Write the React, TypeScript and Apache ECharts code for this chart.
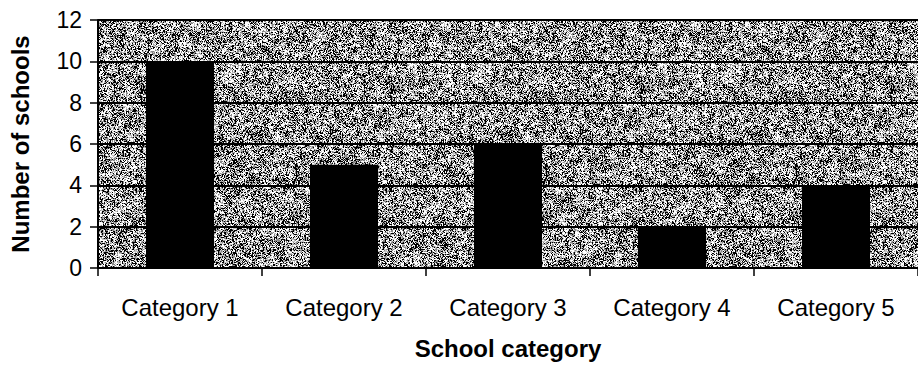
import React, { useEffect, useRef } from "react";
import * as echarts from "echarts";

const categories = ["Category 1", "Category 2", "Category 3", "Category 4", "Category 5"];
const schoolCounts = [10, 5, 6, 2, 4];
const yTicks = { min: 0, max: 12, interval: 2 };

const FONT = "'Liberation Sans', Arial, Helvetica, sans-serif";

// Speckled grey fill for the plot area: a seeded, lightly blotchy dither tile.
function makeSpeckleTile(size: number): string {
  const canvas = document.createElement("canvas");
  canvas.width = size;
  canvas.height = size;
  const ctx = canvas.getContext("2d");
  if (!ctx) return "";
  let seed = 7654321;
  const next = () => {
    seed = (seed * 1103515245 + 12345) & 0x7fffffff;
    return seed / 0x7fffffff;
  };
  // coarse field for low-frequency variation (wraps so the tile repeats cleanly)
  const cell = 5;
  const n = Math.ceil(size / cell);
  const coarse: number[] = [];
  for (let i = 0; i < n * n; i++) coarse.push(next());
  const at = (gx: number, gy: number) => coarse[((gy % n) * n) + (gx % n)];
  const img = ctx.createImageData(size, size);
  for (let y = 0; y < size; y++) {
    for (let x = 0; x < size; x++) {
      const fx = x / cell;
      const fy = y / cell;
      const x0 = Math.floor(fx);
      const y0 = Math.floor(fy);
      const tx = fx - x0;
      const ty = fy - y0;
      const a = at(x0, y0) * (1 - tx) + at(x0 + 1, y0) * tx;
      const b = at(x0, y0 + 1) * (1 - tx) + at(x0 + 1, y0 + 1) * tx;
      const base = a * (1 - ty) + b * ty;
      const r = 0.3 * base + 0.7 * next();
      let v: number;
      if (r > 0.64) v = 255;
      else if (r > 0.5) v = 196;
      else if (r > 0.36) v = 136;
      else v = 0;
      const i = (y * size + x) * 4;
      img.data[i] = v;
      img.data[i + 1] = v;
      img.data[i + 2] = v;
      img.data[i + 3] = 255;
    }
  }
  ctx.putImageData(img, 0, 0);
  return canvas.toDataURL("image/png");
}

export default function App() {
  const ref = useRef<HTMLDivElement>(null);

  useEffect(() => {
    if (!ref.current) return;
    const chart = echarts.init(ref.current, undefined, { renderer: "svg" });
    const tileSize = 250;
    const tile = makeSpeckleTile(tileSize);

    chart.setOption({
      animation: false,
      backgroundColor: "#ffffff",
      textStyle: { fontFamily: FONT },
      grid: {
        left: 96,
        top: 20,
        right: -8,
        bottom: 98,
        show: true,
        borderWidth: 0,
        backgroundColor: {
          image: tile,
          repeat: "repeat",
          imageWidth: tileSize,
          imageHeight: tileSize,
        } as any,
      },
      xAxis: {
        type: "category",
        data: categories,
        name: "School category",
        nameLocation: "middle",
        nameGap: 68,
        nameTextStyle: { fontFamily: FONT, fontSize: 24, fontWeight: "bold", color: "#000" },
        axisLine: { show: true, lineStyle: { color: "#000", width: 2 } },
        axisTick: { show: true, length: 8, interval: 0, lineStyle: { color: "#000", width: 1.5 } },
        axisLabel: { fontFamily: FONT, fontSize: 24, color: "#000", margin: 27, interval: 0 },
        splitLine: { show: false },
      },
      yAxis: {
        type: "value",
        min: yTicks.min,
        max: yTicks.max,
        interval: yTicks.interval,
        name: "Number of schools",
        nameLocation: "middle",
        nameRotate: 90,
        nameGap: 66,
        nameTextStyle: { fontFamily: FONT, fontSize: 24, fontWeight: "bold", color: "#000" },
        axisLine: { show: true, lineStyle: { color: "#000", width: 2 } },
        axisTick: { show: true, length: 8, lineStyle: { color: "#000", width: 1.5 } },
        axisLabel: { fontFamily: FONT, fontSize: 23, color: "#000", margin: 16 },
        splitLine: { show: true, lineStyle: { color: "#000", width: 2 } },
      },
      series: [
        {
          type: "bar",
          data: schoolCounts,
          barWidth: "41.5%",
          itemStyle: { color: "#000" },
        },
      ],
    });

    return () => chart.dispose();
  }, []);

  return (
    <div
      ref={ref}
      style={{ position: "fixed", left: 0, top: 0, width: 918, height: 366, background: "#fff" }}
    />
  );
}
